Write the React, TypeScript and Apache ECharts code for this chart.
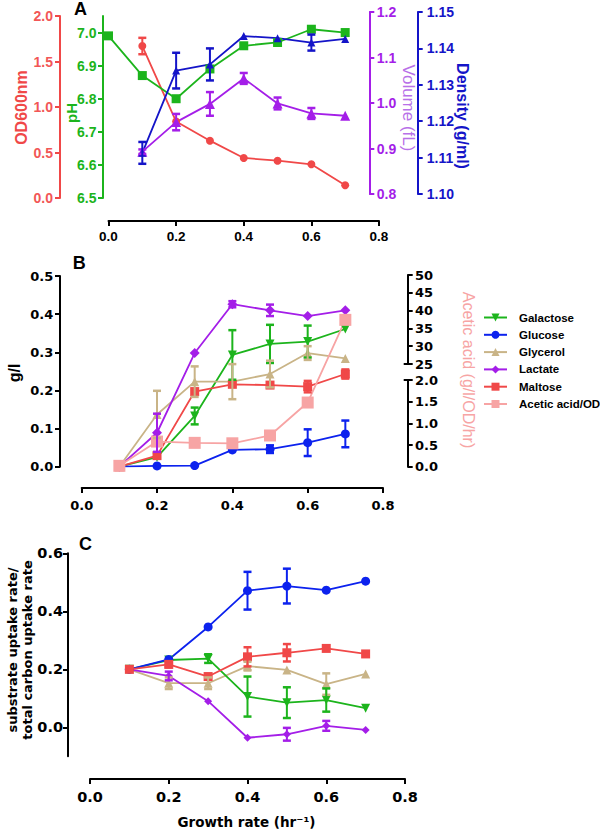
import React, { useEffect, useRef } from 'react';
import * as echarts from 'echarts';

// ---------- data ----------
const growth = [0.1, 0.2, 0.3, 0.4, 0.5, 0.6, 0.7];
const growthPH = [0.0, 0.1, 0.2, 0.3, 0.4, 0.5, 0.6, 0.7];

// Panel A
const od600 = [1.67, 0.84, 0.63, 0.44, 0.41, 0.37, 0.14];
const od600Err = [0.09, 0, 0, 0, 0, 0, 0];
const pH = [6.99, 6.87, 6.8, 6.89, 6.96, 6.97, 7.01, 7.0];
const volume = [0.893, 0.958, 0.998, 1.054, 0.999, 0.977, 0.972];
const volumeErr = [0.005, 0.018, 0.026, 0.012, 0.013, 0.012, 0];
const density = [1.1113, 1.1339, 1.1356, 1.1434, 1.1428, 1.1416, 1.1426];
const densityErr = [0.003, 0.0049, 0.0044, 0, 0, 0.0022, 0];

// Panel B (g/l)
const galactoseB = [0.0, 0.025, 0.133, 0.293, 0.322, 0.328, 0.361];
const galactoseBErr = [0, 0, 0.022, 0.065, 0.05, 0.042, 0];
const glucoseB = [0.0, 0.002, 0.003, 0.044, 0.046, 0.063, 0.086];
const glucoseBErr = [0, 0, 0, 0, 0.01, 0.035, 0.035];
const glycerolB = [0.0, 0.137, 0.223, 0.223, 0.243, 0.298, 0.284];
const glycerolBErr = [0, 0.062, 0.04, 0.046, 0.035, 0.018, 0];
const lactateB = [0.0, 0.089, 0.298, 0.426, 0.41, 0.395, 0.41];
const lactateBErr = [0, 0.05, 0, 0.008, 0.015, 0, 0];
const maltoseB = [0.0, 0.029, 0.197, 0.216, 0.214, 0.21, 0.243];
const maltoseBErr = [0, 0, 0, 0, 0, 0.015, 0.012];
const aceticPerOD = [0.02, 0.58, 0.55, 0.54, 0.72, 1.48, 37.4];

// Panel C (fraction of carbon uptake)
const glucoseC = [0.2, 0.234, 0.346, 0.471, 0.487, 0.473, 0.504];
const glucoseCErr = [0, 0, 0, 0.065, 0.06, 0, 0];
const maltoseC = [0.2, 0.217, 0.175, 0.243, 0.257, 0.272, 0.253];
const maltoseCErr = [0, 0.01, 0, 0.033, 0.03, 0, 0];
const glycerolC = [0.2, 0.152, 0.152, 0.211, 0.198, 0.149, 0.184];
const glycerolCErr = [0, 0.02, 0.02, 0.015, 0, 0.037, 0];
const galactoseC = [0.2, 0.232, 0.237, 0.106, 0.085, 0.094, 0.066];
const galactoseCErr = [0, 0, 0.015, 0.069, 0.053, 0.04, 0];
const lactateC = [0.2, 0.177, 0.09, -0.036, -0.024, 0.005, -0.009];
const lactateCErr = [0, 0.015, 0, 0, 0.022, 0.017, 0];

// tick values
const pHTicks = [6.5, 6.6, 6.7, 6.8, 6.9, 7.0];
const cTicks = [0, 0.2, 0.4, 0.6];
const aceticLower = [0, 2];
const aceticUpper = [25, 50];
const legendNames = ['Galactose', 'Glucose', 'Glycerol', 'Lactate', 'Maltose', 'Acetic acid/OD'];

// ---------- styles ----------
const FA = '"Liberation Sans", Arial, sans-serif';
const FD = '"DejaVu Sans", sans-serif';
const RED = '#f04848';
const GREEN = '#1cb41c';
const PURPLE = '#a41ee8';
const BLUE_D = '#1414c8';
const BLUE = '#0c22ee';
const TAN = '#c9b487';
const PINK = '#f7a4a4';

// layout (pixels)
const A_L = 108.5, A_R = 221;
const B_L = 81.7, B_R = 217, B_TOP = 275, B_UPPER_BOTTOM = 364, B_LOWER_TOP = 380, B_BOTTOM = 466.7, B_MAIN_TOP = 276;
const B_RIGHT_AXIS_X = 407.7;
const C_L = 90, C_R = 195, C_TOP = 553.3, C_BOTTOM = 756.3;
const H = 832;

function aceticToAxis(v: number) {
  const lowerSpan = B_BOTTOM - B_LOWER_TOP;
  if (v <= aceticLower[1]) return ((v - aceticLower[0]) / (aceticLower[1] - aceticLower[0])) * lowerSpan;
  return (B_BOTTOM - B_UPPER_BOTTOM) + ((v - aceticUpper[0]) / (aceticUpper[1] - aceticUpper[0])) * (B_UPPER_BOTTOM - B_TOP);
}

function xAx(gridIndex: number, show: boolean, offset: number, font: string, size: number, margin: number) {
  return {
    type: 'value', gridIndex, min: 0, max: 0.8, interval: 0.2, show, offset,
    axisLine: { show: true, onZero: false, lineStyle: { color: '#000', width: 2 } },
    axisTick: { show: true, length: 5, lineStyle: { color: '#000', width: 2 } },
    axisLabel: { fontFamily: font, fontSize: size, fontWeight: 'bold', color: '#000', margin, formatter: (v: number) => v.toFixed(1) },
    splitLine: { show: false },
  };
}

function yAx(o: any) {
  const label: any = {
    show: o.show !== false, fontFamily: o.font, fontSize: o.size, fontWeight: 'bold', color: o.labelColor || o.color,
    margin: o.margin, formatter: (v: number) => v.toFixed(o.dec),
  };
  const tick: any = { show: true, length: 5, lineStyle: { color: o.color, width: 2 } };
  if (o.custom) { label.customValues = o.custom; tick.customValues = o.custom; }
  const ax: any = {
    type: 'value', gridIndex: o.grid, min: o.min, max: o.max, position: o.position, offset: o.offset,
    show: o.show !== false,
    axisLine: { show: true, onZero: false, lineStyle: { color: o.color, width: 2 } },
    axisTick: tick, axisLabel: label, splitLine: { show: false },
  };
  if (o.interval !== undefined) ax.interval = o.interval;
  return ax;
}

function line(name: string, color: string, xs: number[], ys: number[], symbol: string, size: number, xi: number, yi: number, rotate = 0, z = 4) {
  return {
    type: 'line', name, xAxisIndex: xi, yAxisIndex: yi,
    data: xs.map((x, i) => [x, ys[i]]),
    symbol, symbolSize: size, symbolRotate: rotate, showSymbol: true,
    lineStyle: { color, width: 1.8 }, itemStyle: { color },
    emphasis: { disabled: true }, z,
  };
}

function err(name: string, color: string, xs: number[], ys: number[], es: number[], xi: number, yi: number) {
  const data = xs.map((x, i) => [x, ys[i] - es[i], ys[i] + es[i], es[i]]).filter((d) => d[3] > 0);
  return {
    type: 'custom', name: name + ' SD', xAxisIndex: xi, yAxisIndex: yi, data, silent: true, z: 5,
    encode: { x: 0, y: [1, 2] },
    renderItem: (params: any, api: any) => {
      const x = api.value(0);
      const lo = api.coord([x, api.value(1)]);
      const hi = api.coord([x, api.value(2)]);
      const w = 4;
      const st = { stroke: color, lineWidth: 2 };
      const cs = { stroke: color, lineWidth: 2.5 };
      return {
        type: 'group',
        children: [
          { type: 'line', shape: { x1: lo[0], y1: lo[1], x2: hi[0], y2: hi[1] }, style: st },
          { type: 'line', shape: { x1: lo[0] - w, y1: lo[1], x2: lo[0] + w, y2: lo[1] }, style: cs },
          { type: 'line', shape: { x1: hi[0] - w, y1: hi[1], x2: hi[0] + w, y2: hi[1] }, style: cs },
        ],
      };
    },
  };
}

function txt(text: string, x: number, y: number, font: string, size: number, color: string, weight: string, rotation = 0, align = 'center', lineHeight?: number) {
  return {
    type: 'text', x, y, rotation, silent: true,
    style: { text, fill: color, font: `${weight} ${size}px ${font}`, align, verticalAlign: 'middle', lineHeight: lineHeight || size },
  };
}

function brk(x: number, y: number) {
  return { type: 'line', silent: true, shape: { x1: x - 4, y1: y, x2: x + 1, y2: y }, style: { stroke: '#000', lineWidth: 2 } };
}

const option: any = {
  animation: false,
  backgroundColor: '#ffffff',
  grid: [
    { left: A_L, right: A_R, top: 16, height: 182 }, // 0 A left axes
    { left: A_L, right: A_R, top: 12, height: 182 }, // 1 A right axes
    { left: B_L, right: B_R, top: B_MAIN_TOP, height: B_BOTTOM - B_MAIN_TOP }, // 2 B main
    { left: B_L, right: B_R, top: B_TOP, height: B_UPPER_BOTTOM - B_TOP }, // 3 B upper right axis
    { left: B_L, right: B_R, top: B_LOWER_TOP, height: B_BOTTOM - B_LOWER_TOP }, // 4 B lower right axis
    { left: B_L, right: B_R, top: B_TOP, height: B_BOTTOM - B_TOP }, // 5 B acetic (broken axis)
    { left: C_L, right: C_R, top: C_TOP, height: C_BOTTOM - C_TOP }, // 6 C
  ],
  xAxis: [
    xAx(0, true, 23, FA, 13.5, 8),
    xAx(1, false, 0, FA, 13, 8),
    xAx(2, true, 21.3, FD, 13, 11),
    xAx(3, false, 0, FD, 13, 8),
    xAx(4, false, 0, FD, 13, 8),
    xAx(5, false, 0, FD, 13, 8),
    xAx(6, true, 22.7, FD, 14.5, 10),
  ],
  yAxis: [
    yAx({ grid: 0, min: 0, max: 2, interval: 0.5, position: 'left', offset: 48.5, color: RED, labelColor: '#f25656', font: FA, size: 14, margin: 7, dec: 1 }),
    yAx({ grid: 0, min: 6.5, max: 7.05, custom: pHTicks, position: 'left', offset: 5.5, color: GREEN, font: FA, size: 14, margin: 6.5, dec: 1 }),
    yAx({ grid: 1, min: 0.8, max: 1.2, interval: 0.1, position: 'right', offset: -9.7, color: PURPLE, font: FA, size: 14, margin: 7.5, dec: 1 }),
    yAx({ grid: 1, min: 1.1, max: 1.15, interval: 0.01, position: 'right', offset: 38.7, color: BLUE_D, font: FA, size: 14, margin: 9, dec: 2 }),
    yAx({ grid: 2, min: 0, max: 0.5, interval: 0.1, position: 'left', offset: B_L - 60, color: '#000', font: FD, size: 13, margin: 6.7, dec: 1 }),
    yAx({ grid: 3, min: aceticUpper[0], max: aceticUpper[1], interval: 5, position: 'right', offset: B_RIGHT_AXIS_X - (600 - B_R), color: '#000', font: FD, size: 13, margin: 7.3, dec: 0 }),
    yAx({ grid: 4, min: aceticLower[0], max: aceticLower[1], interval: 0.5, position: 'right', offset: B_RIGHT_AXIS_X - (600 - B_R), color: '#000', font: FD, size: 13, margin: 7.3, dec: 1 }),
    { type: 'value', gridIndex: 5, min: 0, max: B_BOTTOM - B_TOP, show: false, splitLine: { show: false } },
    yAx({ grid: 6, min: -0.1, max: 0.6, custom: cTicks, position: 'left', offset: C_L - 68, color: '#000', font: FD, size: 14.5, margin: 5, dec: 1 }),
  ],
  legend: {
    orient: 'vertical', left: 478, top: 306.5, itemWidth: 23, itemHeight: 10, itemGap: 5.3,
    data: legendNames, selectedMode: false,
    textStyle: { fontFamily: FA, fontSize: 11.5, fontWeight: 'bold', color: '#000', padding: [0, 0, 0, 7] },
  },
  series: [
    // Panel A
    line('OD600nm', RED, growth, od600, 'circle', 8, 0, 0),
    err('OD600nm', RED, growth, od600, od600Err, 0, 0),
    line('pH', GREEN, growthPH, pH, 'rect', 9, 0, 1),
    line('Volume', PURPLE, growth, volume, 'triangle', 10, 1, 2),
    err('Volume', PURPLE, growth, volume, volumeErr, 1, 2),
    line('Density', BLUE_D, growth, density, 'triangle', 8, 1, 3),
    err('Density', BLUE_D, growth, density, densityErr, 1, 3),
    // Panel B
    line('Galactose', GREEN, growth, galactoseB, 'triangle', 9, 2, 4, 180),
    err('Galactose', GREEN, growth, galactoseB, galactoseBErr, 2, 4),
    line('Glucose', BLUE, growth, glucoseB, 'circle', 9, 2, 4),
    err('Glucose', BLUE, growth, glucoseB, glucoseBErr, 2, 4),
    line('Glycerol', TAN, growth, glycerolB, 'triangle', 9, 2, 4),
    err('Glycerol', TAN, growth, glycerolB, glycerolBErr, 2, 4),
    line('Lactate', PURPLE, growth, lactateB, 'diamond', 10, 2, 4),
    err('Lactate', PURPLE, growth, lactateB, lactateBErr, 2, 4),
    line('Maltose', RED, growth, maltoseB, 'rect', 9, 2, 4),
    err('Maltose', RED, growth, maltoseB, maltoseBErr, 2, 4),
    {
      type: 'line', name: 'Acetic acid/OD', xAxisIndex: 5, yAxisIndex: 7,
      data: growth.map((x, i) => [x, aceticToAxis(aceticPerOD[i])]),
      symbol: 'rect', symbolSize: 12, lineStyle: { color: PINK, width: 1.8 }, itemStyle: { color: PINK },
      emphasis: { disabled: true }, z: 4,
    },
    // Panel C
    line('Glycerol', TAN, growth, glycerolC, 'triangle', 9, 6, 8),
    err('Glycerol', TAN, growth, glycerolC, glycerolCErr, 6, 8),
    line('Galactose', GREEN, growth, galactoseC, 'triangle', 9, 6, 8, 180),
    err('Galactose', GREEN, growth, galactoseC, galactoseCErr, 6, 8),
    line('Lactate', PURPLE, growth, lactateC, 'diamond', 8, 6, 8),
    err('Lactate', PURPLE, growth, lactateC, lactateCErr, 6, 8),
    line('Glucose', BLUE, growth, glucoseC, 'circle', 9, 6, 8),
    err('Glucose', BLUE, growth, glucoseC, glucoseCErr, 6, 8),
    line('Maltose', RED, growth, maltoseC, 'rect', 9, 6, 8),
    err('Maltose', RED, growth, maltoseC, maltoseCErr, 6, 8),
  ],
  graphic: [
    txt('A', 74, 8.5, FA, 18, '#000', 'bold', 0, 'left'),
    txt('B', 72.7, 263.3, FA, 18, '#000', 'bold', 0, 'left'),
    txt('C', 79, 543.5, FA, 18, '#000', 'bold', 0, 'left'),
    txt('OD600nm', 21, 107.5, FA, 16, RED, 'bold', Math.PI / 2),
    txt('pH', 71.7, 113, FA, 15, GREEN, 'bold', Math.PI / 2),
    txt('Volume (fL)', 408, 108, FA, 17, '#b870e8', 'normal', -Math.PI / 2),
    txt('Density (g/ml)', 462, 116, FA, 16, BLUE_D, 'bold', -Math.PI / 2),
    txt('g/l', 14.5, 373, FA, 16, '#000', 'bold', Math.PI / 2),
    txt('Acetic acid (g/l/OD/hr)', 468, 370, FA, 16, PINK, 'normal', -Math.PI / 2),
    txt('substrate uptake rate/\ntotal carbon uptake rate', 20, 650, FD, 13, '#000', 'bold', Math.PI / 2, 'center', 15),
    txt('Growth rate (hr\u207B\u00B9)', 246.5, 822, FD, 13.5, '#000', 'bold'),
    brk(B_RIGHT_AXIS_X, B_UPPER_BOTTOM),
    brk(B_RIGHT_AXIS_X, B_LOWER_TOP),
  ],
};

export default function App() {
  const ref = useRef<HTMLDivElement>(null);
  useEffect(() => {
    const chart = echarts.init(ref.current as HTMLDivElement, null, { renderer: 'svg' });
    chart.setOption(option);
    return () => chart.dispose();
  }, []);
  return <div ref={ref} style={{ position: 'absolute', left: 0, top: 0, width: 600, height: H, background: '#fff' }} />;
}
